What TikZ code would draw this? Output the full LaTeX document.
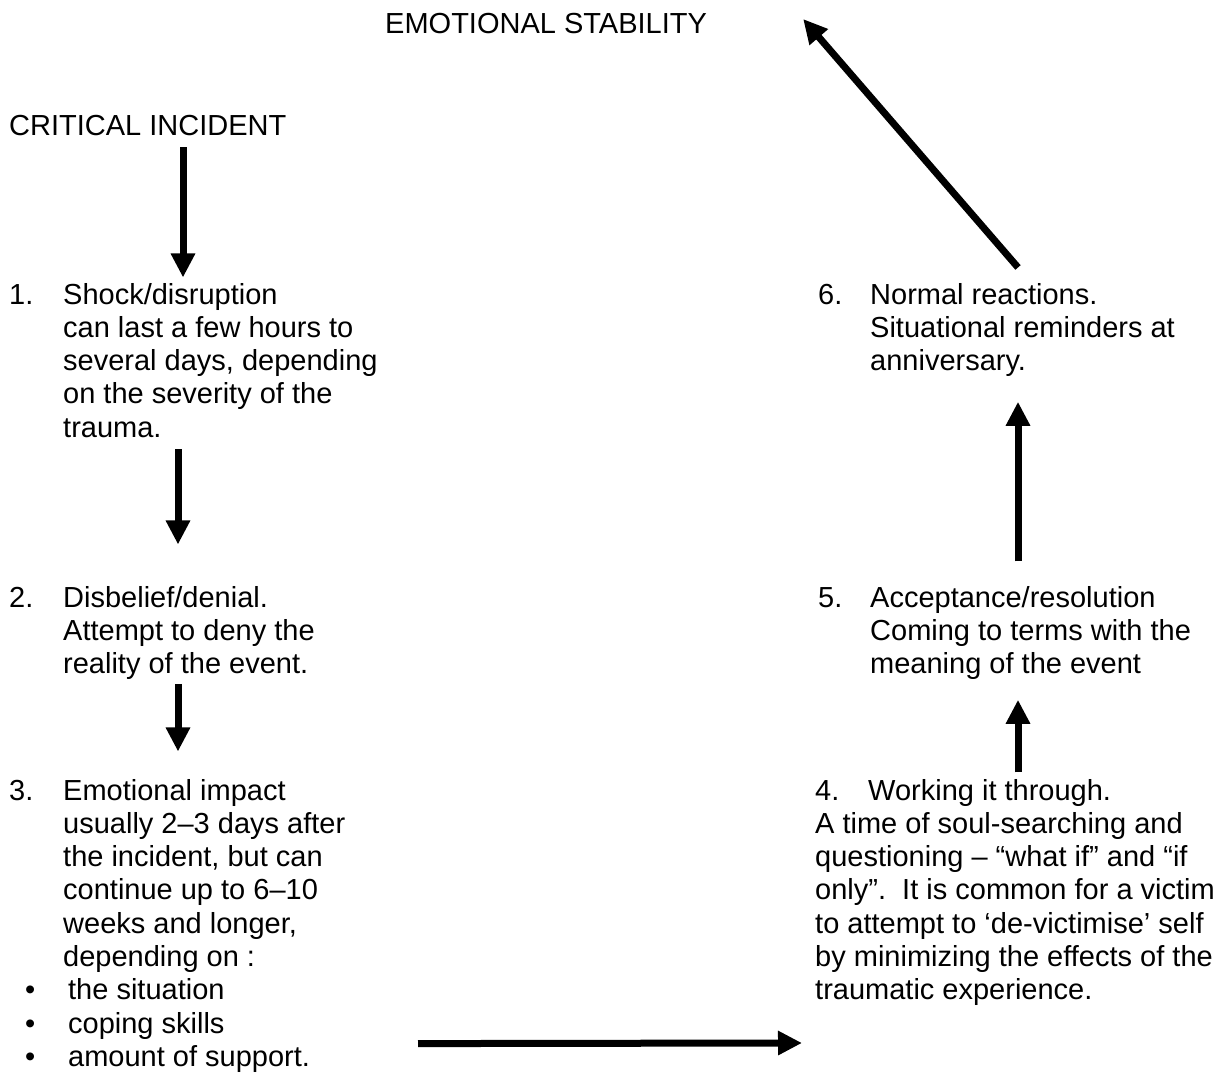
\documentclass[tikz,border=0pt]{standalone}
\usepackage{fontspec}
\setmainfont{Liberation Sans}
\usetikzlibrary{arrows.meta, calc}

\tikzset{
  stage/.style={anchor=base west, inner sep=0pt, font=\fontsize{29}{33.3}\selectfont},
  flow/.style={line width=7pt, -{Triangle[length=24pt, width=23pt]}},
}

\begin{document}
\begin{tikzpicture}[x=1pt, y=-1pt]
  \useasboundingbox (0, 0) rectangle (1232, 1086);

  \node [stage] (Stability_node) at (385, 34) {EMOTIONAL STABILITY};
  \node [stage] (Critical_node) at (9, 136) {CRITICAL INCIDENT};

  \node [stage] (Shock_node) at (9, 304) {\begin{tabular}[t]{@{}p{54pt}@{}l@{}}
    1. & Shock/disruption\\
       & can last a few hours to\\
       & several days, depending\\
       & on the severity of the\\
       & trauma.
  \end{tabular}};
  \node [stage] (Denial_node) at (9, 607) {\begin{tabular}[t]{@{}p{54pt}@{}l@{}}
    2. & Disbelief/denial.\\
       & Attempt to deny the\\
       & reality of the event.
  \end{tabular}};
  \node [stage] (Impact_node) at (9, 800) {\begin{tabular}[t]{@{}p{54pt}@{}l@{}}
    3. & Emotional impact\\
       & usually 2–3 days after\\
       & the incident, but can\\
       & continue up to 6–10\\
       & weeks and longer,\\
       & depending on :\\
    \multicolumn{2}{@{}l@{}}{\makebox[59pt][l]{\hspace{16pt}•}the situation}\\
    \multicolumn{2}{@{}l@{}}{\makebox[59pt][l]{\hspace{16pt}•}coping skills}\\
    \multicolumn{2}{@{}l@{}}{\makebox[59pt][l]{\hspace{16pt}•}amount of support.}
  \end{tabular}};

  \node [stage] (Working_node) at (815, 800) {\begin{tabular}[t]{@{}p{53pt}@{}l@{}}
    4. & Working it through.\\
    \multicolumn{2}{@{}l@{}}{A time of soul-searching and}\\
    \multicolumn{2}{@{}l@{}}{questioning – “what if” and “if}\\
    \multicolumn{2}{@{}l@{}}{only”.\ \ It is common for a victim}\\
    \multicolumn{2}{@{}l@{}}{to attempt to ‘de-victimise’ self}\\
    \multicolumn{2}{@{}l@{}}{by minimizing the effects of the}\\
    \multicolumn{2}{@{}l@{}}{traumatic experience.}
  \end{tabular}};
  \node [stage] (Acceptance_node) at (818, 607) {\begin{tabular}[t]{@{}p{52pt}@{}l@{}}
    5. & Acceptance/resolution\\
       & Coming to terms with the\\
       & meaning of the event
  \end{tabular}};
  \node [stage] (Normal_node) at (818, 304) {\begin{tabular}[t]{@{}p{52pt}@{}l@{}}
    6. & Normal reactions.\\
       & Situational reminders at\\
       & anniversary.
  \end{tabular}};

  \draw [flow] ($(Critical_node.south west) + (174, 11)$) -- ($(Shock_node.north west) + (174, -3)$);
  \draw [flow] ($(Shock_node.south west) + (169, 2)$) -- ($(Denial_node.north west) + (169, -39)$);
  \draw [flow] ($(Denial_node.south west) + (169, 0)$) -- ($(Impact_node.north west) + (169, -25)$);

  \draw [flow] ($(Impact_node.south west) + (409, -33)$) -- ($(Working_node.south west) + (-13, 33)$);

  \draw [flow] ($(Working_node.north west) + (203, -4)$) -- ($(Acceptance_node.south west) + (200, 16)$);
  \draw [flow] ($(Acceptance_node.north west) + (200, -22)$) -- ($(Normal_node.south west) + (200, 21)$);
  \draw [flow] ($(Normal_node.north west) + (200, -13)$) -- ($(Stability_node.east) + (96, -5)$);
\end{tikzpicture}
\end{document}
